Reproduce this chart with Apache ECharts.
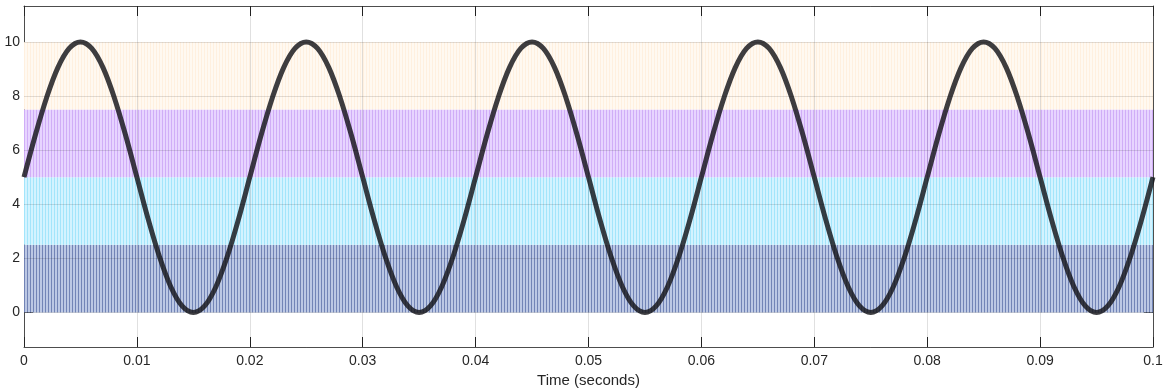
<!DOCTYPE html>
<html>
<head>
<meta charset="utf-8">
<script src="https://cdn.jsdelivr.net/npm/echarts@6/dist/echarts.min.js"></script>
<style>
  html, body { margin: 0; padding: 0; background: #fff; }
  #chart { width: 1167px; height: 390px; }
</style>
</head>
<body>
<div id="chart"></div>
<script>
// reference sine (one sample per ms)
var sampleStep = 0.001;
var sineValues = [
  5, 6.55, 7.94, 9.05, 9.76, 10, 9.76, 9.05, 7.94, 6.55, 5, 3.45, 2.06, 0.95, 0.24, 0, 0.24, 0.95, 2.06, 3.45,
  5, 6.55, 7.94, 9.05, 9.76, 10, 9.76, 9.05, 7.94, 6.55, 5, 3.45, 2.06, 0.95, 0.24, 0, 0.24, 0.95, 2.06, 3.45,
  5, 6.55, 7.94, 9.05, 9.76, 10, 9.76, 9.05, 7.94, 6.55, 5, 3.45, 2.06, 0.95, 0.24, 0, 0.24, 0.95, 2.06, 3.45,
  5, 6.55, 7.94, 9.05, 9.76, 10, 9.76, 9.05, 7.94, 6.55, 5, 3.45, 2.06, 0.95, 0.24, 0, 0.24, 0.95, 2.06, 3.45,
  5, 6.55, 7.94, 9.05, 9.76, 10, 9.76, 9.05, 7.94, 6.55, 5, 3.45, 2.06, 0.95, 0.24, 0, 0.24, 0.95, 2.06, 3.45,
  5
];
// carrier bands (low / high level of each triangle carrier)
var carrierLow = [0, 2.5, 5, 7.5];
var carrierHigh = [2.5, 5, 7.5, 10];
var xTicks = [0, 0.01, 0.02, 0.03, 0.04, 0.05, 0.06, 0.07, 0.08, 0.09, 0.1];
var yTicks = [0, 2, 4, 6, 8, 10];

// stripe colours for the carriers [light, dark]
var carrierColors = [
  ['#bcc8e4', '#7284b6'],
  ['#d3f3ff', '#a3e5fb'],
  ['#e7d4ff', '#d0adf7'],
  ['#fff9f1', '#fff0df']
];

function stripes(light, dark) {
  var c = document.createElement('canvas');
  c.width = 3; c.height = 4;
  var ctx = c.getContext('2d');
  ctx.fillStyle = light;
  ctx.fillRect(0, 0, 3, 4);
  ctx.fillStyle = dark;
  ctx.fillRect(0, 0, 1, 4);
  return { image: c, repeat: 'repeat' };
}

var sineData = sineValues.map(function (v, i) {
  return [+(i * sampleStep).toFixed(4), v];
});

var bandAreas = carrierLow.map(function (lo, i) {
  return [
    { xAxis: 0, yAxis: lo, itemStyle: { color: stripes(carrierColors[i][0], carrierColors[i][1]), opacity: 1 } },
    { xAxis: 0.1, yAxis: carrierHigh[i] }
  ];
});

var gridLines = yTicks.map(function (v) { return { yAxis: v }; })
  .concat(xTicks.slice(1, -1).map(function (v) { return { xAxis: v }; }));

var axisColor = '#262626';
var boxColor = '#4d4d4d';
var fontFamily = '"Liberation Sans", Arial, sans-serif';

var chart = echarts.init(document.getElementById('chart'));
var option = {
  animation: false,
  backgroundColor: '#fff',
  grid: { left: 24, right: 14, top: 6, bottom: 43, containLabel: false, outerBoundsMode: 'none' },
  xAxis: [
    {
      type: 'value', min: 0, max: 0.1, interval: 0.01, position: 'bottom',
      name: 'Time (seconds)', nameLocation: 'middle', nameGap: 26,
      nameTextStyle: { color: axisColor, fontSize: 15, fontFamily: fontFamily },
      axisLine: { show: true, onZero: false, lineStyle: { color: boxColor, width: 1 } },
      axisTick: { show: true, inside: true, length: 10, lineStyle: { color: axisColor } },
      axisLabel: {
        color: axisColor, fontSize: 14, fontFamily: fontFamily, margin: 7,
        formatter: function (v) { return String(+v.toFixed(2)); }
      },
      splitLine: { show: false }
    },
    {
      type: 'value', min: 0, max: 0.1, interval: 0.01, position: 'top',
      axisLine: { show: true, onZero: false, lineStyle: { color: boxColor, width: 1 } },
      axisTick: { show: true, inside: true, length: 10, lineStyle: { color: axisColor } },
      axisLabel: { show: false },
      splitLine: { show: false }
    }
  ],
  yAxis: [
    {
      type: 'value', min: -1.28, max: 11.33, position: 'left',
      axisLine: { show: true, onZero: false, lineStyle: { color: boxColor, width: 1 } },
      axisTick: { show: true, inside: true, length: 9, customValues: yTicks, lineStyle: { color: axisColor } },
      axisLabel: { color: axisColor, fontSize: 14, fontFamily: fontFamily, margin: 4, customValues: yTicks },
      splitLine: { show: false }
    },
    {
      type: 'value', min: -1.28, max: 11.33, position: 'right',
      axisLine: { show: true, onZero: false, lineStyle: { color: boxColor, width: 1 } },
      axisTick: { show: true, inside: true, length: 9, customValues: yTicks, lineStyle: { color: axisColor } },
      axisLabel: { show: false },
      splitLine: { show: false }
    }
  ],
  series: [
    {
      name: 'carriers', type: 'line', data: [], z: 1, silent: true,
      markArea: { silent: true, data: bandAreas }
    },
    {
      name: 'grid', type: 'line', data: [], z: 2, silent: true,
      markLine: {
        silent: true, symbol: 'none', label: { show: false },
        lineStyle: { type: 'solid', color: 'rgba(0,0,0,0.12)', width: 1 },
        data: gridLines
      }
    },
    {
      name: 'reference', type: 'line', data: sineData, z: 3,
      smooth: 0.35, showSymbol: false, silent: true,
      lineStyle: { color: 'rgba(20,20,25,0.82)', width: 5 }
    }
  ]
};
chart.setOption(option);
</script>
</body>
</html>
